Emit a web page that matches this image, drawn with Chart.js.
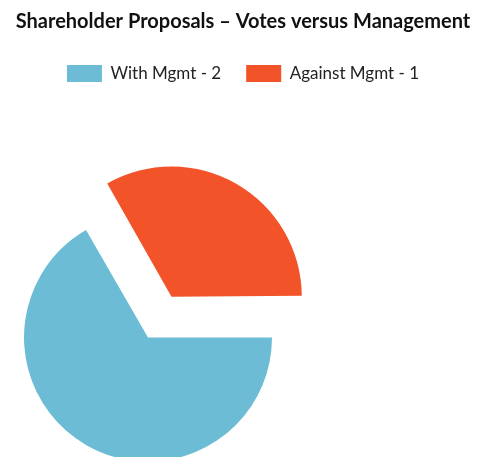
<!DOCTYPE html>
<html lang="en">
<head>
  <meta charset="UTF-8">
  <title>Shareholder Proposals</title>
  <script src="https://cdn.jsdelivr.net/npm/chart.js"></script>
  <style>
    html, body { margin: 0; padding: 0; background: #fff; overflow: hidden; }
    .wrap { width: 478px; height: 457px; }
</style>
</head>
<body>

<div class="wrap">
    <canvas id="myChart"></canvas>
</div>

<script>
    // Data
    const labels = ["With Mgmt - 2", "Against Mgmt - 1"];
    const votes = [2, 1];
    const colors = ["#6CBCD5", "#F25328"];
    const offsets = [0, 188]; // against slice pulled out

    // pie sits left of centre, partly below the bottom edge
    const pieBox = { left: 24, top: 213.5, right: 272, bottom: 461.5 };

    const placePie = {
      id: 'placePie',
      afterLayout(chart) {
        const a = chart.chartArea;
        a.left = pieBox.left;
        a.right = pieBox.right;
        a.top = pieBox.top;
        a.bottom = pieBox.bottom;
        a.width = pieBox.right - pieBox.left;
        a.height = pieBox.bottom - pieBox.top;
      }
    };

    const config = {
      type: 'pie',
      data: {
        labels: labels,
        datasets: [{
          data: votes,
          backgroundColor: colors,
          offset: offsets,
          borderWidth: 0,
          clip: false
        }]
      },
      options: {
        responsive: true,
        maintainAspectRatio: false,
        animation: false,
        rotation: 90,
        radius: 124,
        layout: { padding: { left: 8 } },
        plugins: {
          title: {
            display: true,
            text: 'Shareholder Proposals \u2013 Votes versus Management',
            color: '#111',
            font: { family: 'Lato', size: 20, weight: 'bold' },
            padding: { top: 10, bottom: 6 }
          },
          legend: {
            position: 'top',
            labels: {
              boxWidth: 35,
              boxHeight: 17,
              padding: 25,
              color: '#222',
              font: { family: 'Lato', size: 17 }
            }
          },
          tooltip: { enabled: false }
        }
      },
      plugins: [placePie]
    };

    // Create chart
    const ctx = document.getElementById('myChart').getContext('2d');
    const myChart = new Chart(ctx, config);
</script>

</body>
</html>
